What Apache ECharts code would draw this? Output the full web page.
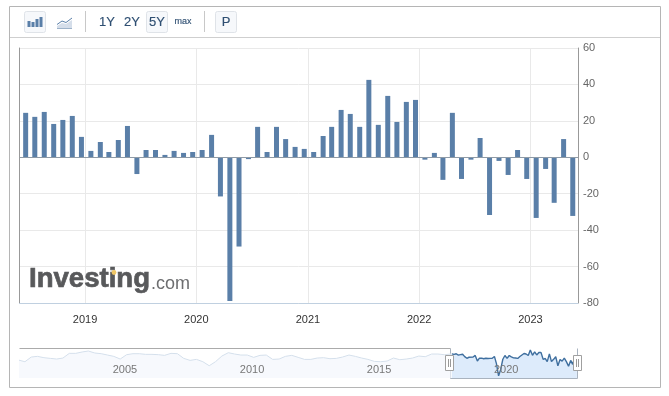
<!DOCTYPE html>
<html><head><meta charset="utf-8">
<style>html,body{margin:0;padding:0;background:#fff}#c{width:669px;height:396px}</style>
<script src="https://cdn.jsdelivr.net/npm/echarts@6/dist/echarts.min.js"></script>
</head><body><div id="c"></div>
<script>
const barDates = ['2018-06-20','2018-07-20','2018-08-20','2018-09-20','2018-10-20','2018-11-20','2018-12-20',
'2019-01-20','2019-02-20','2019-03-20','2019-04-20','2019-05-20','2019-06-20','2019-07-20','2019-08-20','2019-09-20','2019-10-20','2019-11-20','2019-12-20',
'2020-01-20','2020-02-20','2020-03-20','2020-04-20','2020-05-20','2020-06-20','2020-07-20','2020-08-20','2020-09-20','2020-10-20','2020-11-20','2020-12-20',
'2021-01-20','2021-02-20','2021-03-20','2021-04-20','2021-05-20','2021-06-20','2021-07-20','2021-08-20','2021-09-20','2021-10-20','2021-11-20','2021-12-20',
'2022-01-20','2022-02-20','2022-03-20','2022-04-20','2022-05-20','2022-06-20','2022-07-20','2022-08-20','2022-09-20','2022-10-20','2022-11-20','2022-12-20',
'2023-01-20','2023-02-20','2023-03-20','2023-04-20','2023-05-20'];
const barValues = [24.4,22.2,24.9,18.3,20.5,22.7,11.2,3.5,8.4,2.9,9.5,17.2,-9.2,4.0,4.0,1.3,3.5,2.4,2.9,4.0,12.3,-21.5,-78.9,-49,-1,16.7,2.9,16.7,10,5.7,
4.6,2.9,11.7,16.7,26,23.8,16.7,42.5,17.8,33.7,19.4,30.4,31.5,-1.3,2.4,-12.4,24.4,-11.9,-1.3,10.6,-31.7,-2,-9.7,4,-11.9,-33.3,-6.4,-25,10,-32.2];
const navDates = ['2001-06','2001-09','2001-12',
'2002-03','2002-06','2002-09','2002-12','2003-03','2003-06','2003-09','2003-12','2004-03','2004-06','2004-09','2004-12',
'2005-03','2005-06','2005-09','2005-12','2006-03','2006-06','2006-09','2006-12','2007-03','2007-06','2007-09','2007-12',
'2008-03','2008-06','2008-09','2008-12','2009-03','2009-06','2009-09','2009-12','2010-03','2010-06','2010-09','2010-12',
'2011-03','2011-06','2011-09','2011-12','2012-03','2012-06','2012-09','2012-12','2013-03','2013-06','2013-09','2013-12',
'2014-03','2014-06','2014-09','2014-12','2015-03','2015-06','2015-09','2015-12','2016-03','2016-06','2016-09','2016-12',
'2017-03','2017-06','2017-09','2017-12','2018-03'];
const navValues = [-4.7,-12.6,9.4,12.6,6.3,3.1,0,4.7,26.7,26.7,33,37.7,28.3,25.1,18.8,12.6,0,20.4,25.1,25.1,22,22,20.4,17.3,26.7,25.1,3.1,-6.3,-1.6,-12.6,-31.4,-12.6,14.1,29.8,23.6,18.8,18.8,7.9,17.3,18.8,-1.6,0,12.6,17.3,7.9,-1.6,-1.6,4.7,6.3,1.6,3.1,9.4,18.8,12.6,4.7,-1.6,-11,-12.6,-9.4,4.7,-3.1,0,4.7,14.1,11,23.6,23.6,20.4];
const navYears = ['2005-01-01','2010-01-01','2015-01-01','2020-01-01'];
const rangeLabels = ['1Y','2Y','5Y','max','P'];

const FONT = '"Liberation Sans", Arial, sans-serif';
const pale = navDates.map((d,i)=>[d,navValues[i]]).concat([[barDates[0],barValues[0]]]);
const sel = barDates.map((d,i)=>[d,barValues[i]]);
const btn = (x,w)=>({type:'rect',shape:{x:x+.5,y:11.5,width:w,height:21,r:2},style:{fill:'#f6f8fb',stroke:'#dfe3e8'}});
const sep = x=>({type:'line',shape:{x1:x,y1:11,x2:x,y2:32},style:{stroke:'#c8c8c8',lineWidth:1}});
const ibar = (x,h)=>({type:'rect',shape:{x:x,y:27-h,width:3,height:h},style:{fill:'#5a7fa8'}});
const txt = (x,y,t,size,fill,extra)=>({type:'text',x:x,y:y,style:Object.assign({text:t,font:size+'px '+FONT,fill:fill,stroke:fill,lineWidth:.15,align:'center',verticalAlign:'middle'},extra||{})});
const handle = x=>({type:'group',z:10,children:[
  {type:'rect',z:10,shape:{x:x+.5,y:355.5,width:8,height:15},style:{fill:'#fff',stroke:'#a0a0a0'}},
  {type:'line',z:11,shape:{x1:x+3.5,y1:359,x2:x+3.5,y2:367},style:{stroke:'#999'}},
  {type:'line',z:11,shape:{x1:x+5.5,y1:359,x2:x+5.5,y2:367},style:{stroke:'#999'}}]});

const chart = echarts.init(document.getElementById('c'),null,{renderer:'canvas'});
chart.setOption({
  animation:false,
  textStyle:{fontFamily:FONT},
  grid:[{left:19.5,right:91,top:48,bottom:93},{left:19.5,right:91,top:348.5,bottom:18}],
  xAxis:[
    {type:'time',gridIndex:0,min:'2018-06-08',max:'2023-05-29',minInterval:365*864e5,containShape:false,
     axisLine:{onZero:false,lineStyle:{color:'#c0d0e0'}},axisTick:{show:false},
     splitLine:{show:true,lineStyle:{color:'#e9e9e9'}},
     axisLabel:{formatter:'{yyyy}',color:'#333',fontSize:11,margin:11,showMinLabel:false,showMaxLabel:false,hideOverlap:false}},
    {type:'time',gridIndex:1,min:'2001-06-15',max:'2023-06-05',containShape:false,z:6,
     axisLine:{show:false},axisTick:{show:false},splitLine:{show:false},
     axisLabel:{customValues:navYears,formatter:'{yyyy}',inside:true,margin:3,color:'#777',fontSize:11,align:'left',padding:[0,0,0,3],showMinLabel:true,showMaxLabel:true}}
  ],
  yAxis:[
    {type:'value',gridIndex:0,position:'right',min:-80,max:60,interval:20,
     axisLine:{show:true,lineStyle:{color:'#999'}},axisTick:{show:false},
     splitLine:{lineStyle:{color:'#e9e9e9'}},
     axisLabel:{color:'#666',fontSize:11,margin:5,align:'left'}},
    {type:'value',gridIndex:0,position:'left',min:-80,max:60,
     axisLine:{show:true,onZero:false,lineStyle:{color:'#999'}},axisTick:{show:false},splitLine:{show:false},axisLabel:{show:false}},
    {type:'value',gridIndex:1,min:-89,max:49.5,show:false}
  ],
  series:[
    {type:'line',xAxisIndex:1,yAxisIndex:2,data:pale,symbol:'none',z:2,
     lineStyle:{color:'#d5e0ec',width:1},areaStyle:{color:'#f3f7fc',origin:'start'},silent:true},
    {type:'line',xAxisIndex:1,yAxisIndex:2,data:sel,symbol:'none',z:2,
     lineStyle:{color:'#3f6f9f',width:1.4},areaStyle:{color:'#cfe2f9',origin:'start'},silent:true},
    {type:'bar',xAxisIndex:0,yAxisIndex:0,data:sel,barWidth:5,itemStyle:{color:'#5a7fa8'},z:3,silent:true,
     markLine:{silent:true,symbol:'none',label:{show:false},animation:false,
       lineStyle:{color:'#8e9aa6',type:'solid',width:1},data:[{yAxis:0}]}}
  ],
  graphic:{elements:[
    {type:'rect',z:-1,shape:{x:9.5,y:6.5,width:651,height:381},style:{fill:'none',stroke:'#b5b5b5'}},
    {type:'line',shape:{x1:10,y1:37.5,x2:660,y2:37.5},style:{stroke:'#cfcfcf'}},
    btn(24,21),ibar(27.5,6),ibar(31.5,5),ibar(35.5,8),ibar(39.5,10),
    {type:'polygon',shape:{points:[[57,26],[62,23],[66,24],[72,20],[72,28],[57,28]]},style:{fill:'#d5deea'}},
    {type:'polyline',shape:{points:[[57,24.5],[62,21],[66,22.5],[72,18]]},style:{stroke:'#5a7fa8',fill:'none'}},
    {type:'line',shape:{x1:57,y1:28.5,x2:72,y2:28.5},style:{stroke:'#9db2c9'}},
    sep(85.5),sep(204.5),
    btn(146,21),btn(215,21),
    txt(107,22,rangeLabels[0],13,'#2f4f72'),
    txt(132,22,rangeLabels[1],13,'#2f4f72'),
    txt(157,22,rangeLabels[2],13,'#2f4f72'),
    txt(183,22,rangeLabels[3],9,'#2f4f72'),
    txt(226,22,rangeLabels[4],13,'#2f4f72'),
    {type:'text',x:29,y:293,z:1,scaleX:.985,style:{text:'Investing',font:'bold 28px '+FONT,fill:'#58595b',stroke:'#58595b',lineWidth:.7,verticalAlign:'bottom',align:'left'}},
    {type:'text',x:151,y:293,z:1,style:{text:'.com',font:'18px '+FONT,fill:'#6d6e70',verticalAlign:'bottom',align:'left'}},
    {type:'circle',z:2,shape:{cx:114,cy:272.5,r:2.4},style:{fill:'#f0c766'}},
    {type:'line',shape:{x1:19.5,y1:348.5,x2:450.5,y2:348.5},style:{stroke:'#ababab'}},
    {type:'polyline',shape:{points:[[450.5,348.5],[450.5,378.5],[577.5,378.5],[577.5,348.5]]},style:{stroke:'#a9b3bf',fill:'none'}},
    handle(445),handle(573)
  ]}
});
</script></body></html>
